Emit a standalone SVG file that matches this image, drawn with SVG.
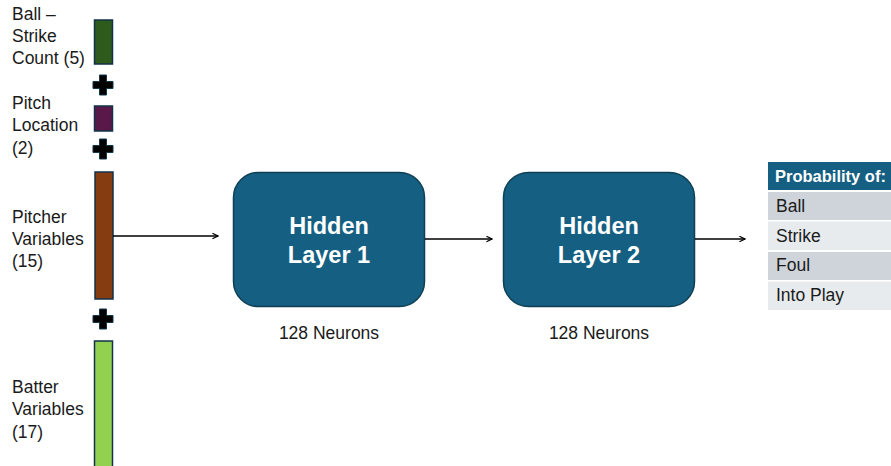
<svg xmlns="http://www.w3.org/2000/svg" width="891" height="466" viewBox="0 0 891 466">
  <defs>
    <style>
      .lbl { font-family: "Liberation Sans", Arial, sans-serif; font-size: 17.5px; fill: #1a1a1a; }
      .bar { stroke: #10324a; stroke-width: 1.5; }
      .plus { fill: #000; stroke: #12384a; stroke-width: 1; }
      .layer { fill: #156082; stroke: #0e3f55; stroke-width: 1.5; }
      .ltxt { font-family: "Liberation Sans", Arial, sans-serif; font-size: 23.5px; font-weight: bold; fill: #fff; text-anchor: middle; }
      .sub { font-family: "Liberation Sans", Arial, sans-serif; font-size: 17.5px; fill: #1a1a1a; text-anchor: middle; }
      .conn { stroke: #000; stroke-width: 1.5; fill: none; marker-end: url(#arrow); }
      .cell { font-family: "Liberation Sans", Arial, sans-serif; font-size: 17.5px; fill: #1a1a1a; }
      .head { fill: #fff; font-weight: bold; font-size: 16.5px; }
    </style>
    <marker id="arrow" viewBox="0 0 10 10" refX="9" refY="5" markerWidth="7" markerHeight="7" markerUnits="userSpaceOnUse" orient="auto">
      <path d="M1,1 L9,5 L1,9" fill="none" stroke="#000" stroke-width="1.6"/>
    </marker>
    <path id="plusShape" d="M-3.5,-10 H3.5 V-3.5 H10 V3.5 H3.5 V10 H-3.5 V3.5 H-10 V-3.5 H-3.5 Z"/>
  </defs>

  <rect width="891" height="466" fill="#fff"/>

  <!-- input feature groups -->
  <g id="count">
    <text class="lbl" x="12" y="20">Ball –</text>
    <text class="lbl" x="12" y="42">Strike</text>
    <text class="lbl" x="12" y="64">Count (5)</text>
    <rect class="bar" x="94.5" y="20" width="18" height="44" fill="#2e5a1c"/>
  </g>
  <g id="plus1"><use href="#plusShape" class="plus" x="103" y="85"/></g>
  <g id="location">
    <text class="lbl" x="12" y="109">Pitch</text>
    <text class="lbl" x="12" y="131">Location</text>
    <text class="lbl" x="12" y="154">(2)</text>
    <rect class="bar" x="94.5" y="106" width="18" height="25" fill="#581848"/>
  </g>
  <g id="plus2"><use href="#plusShape" class="plus" x="103" y="149"/></g>
  <g id="pitcher">
    <text class="lbl" x="12" y="223">Pitcher</text>
    <text class="lbl" x="12" y="245">Variables</text>
    <text class="lbl" x="12" y="267">(15)</text>
    <rect class="bar" x="95" y="172" width="18" height="127" fill="#843c10"/>
  </g>
  <g id="plus3"><use href="#plusShape" class="plus" x="103" y="319"/></g>
  <g id="batter">
    <text class="lbl" x="12" y="393">Batter</text>
    <text class="lbl" x="12" y="415">Variables</text>
    <text class="lbl" x="12" y="438">(17)</text>
    <rect class="bar" x="94.5" y="341" width="18" height="130" fill="#92d050"/>
  </g>

  <!-- hidden layers -->
  <g id="hidden1">
    <rect class="layer" x="233.5" y="172.5" width="191" height="134" rx="25"/>
    <text class="ltxt" x="329" y="234">Hidden</text>
    <text class="ltxt" x="329" y="263">Layer 1</text>
    <text class="sub" x="329" y="339">128 Neurons</text>
  </g>
  <g id="hidden2">
    <rect class="layer" x="503.5" y="172.5" width="191" height="134" rx="25"/>
    <text class="ltxt" x="599" y="234">Hidden</text>
    <text class="ltxt" x="599" y="263">Layer 2</text>
    <text class="sub" x="599" y="339">128 Neurons</text>
  </g>

  <!-- output table -->
  <g id="output">
    <rect x="768" y="162" width="123" height="28" fill="#156082"/>
    <rect x="768" y="192" width="123" height="28" fill="#cfd4db"/>
    <rect x="768" y="221.5" width="123" height="28.5" fill="#e8ebee"/>
    <rect x="768" y="252" width="123" height="28" fill="#cfd4db"/>
    <rect x="768" y="281.5" width="123" height="28.5" fill="#e8ebee"/>
    <text class="cell head" x="775" y="182">Probability of:</text>
    <text class="cell" x="776" y="212">Ball</text>
    <text class="cell" x="776" y="242">Strike</text>
    <text class="cell" x="776" y="271">Foul</text>
    <text class="cell" x="776" y="301">Into Play</text>
  </g>

  <!-- connectors -->
  <g id="connectors">
    <line class="conn" x1="113" y1="236" x2="218" y2="236"/>
    <line class="conn" x1="425" y1="239" x2="492" y2="239"/>
    <line class="conn" x1="695" y1="239" x2="745" y2="239"/>
  </g>
</svg>
